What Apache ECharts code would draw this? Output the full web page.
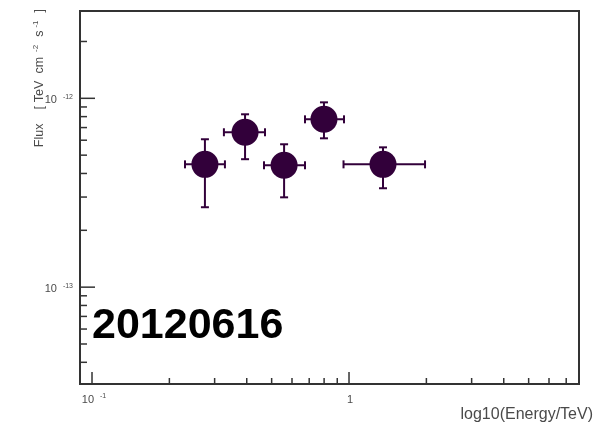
<!DOCTYPE html>
<html>
<head>
<meta charset="utf-8">
<script src="https://cdn.jsdelivr.net/npm/echarts@6/dist/echarts.min.js"></script>
<style>
  html, body { margin: 0; padding: 0; background: #fff; }
  #chart { width: 598px; height: 433px; }
</style>
</head>
<body>
<div id="chart"></div>
<script>
// Spectral points: energy (TeV) with bin edges, flux with asymmetric errors
const energy     = [0.275, 0.394, 0.559, 0.799, 1.356];
const energyLow  = [0.230, 0.326, 0.467, 0.674, 0.952];
const energyHigh = [0.329, 0.471, 0.674, 0.956, 1.976];
const flux       = [4.47e-13, 6.61e-13, 4.42e-13, 7.74e-13, 4.47e-13];
const fluxLow    = [2.65e-13, 4.76e-13, 2.99e-13, 6.14e-13, 3.34e-13];
const fluxHigh   = [6.07e-13, 8.23e-13, 5.71e-13, 9.52e-13, 5.50e-13];

// Axis ranges
const xMin = 0.0898, xMax = 7.85;
const yMin = 3.07e-14, yMax = 2.9e-12;

// Tick positions
const xMajorTicks = [0.1, 1];
const xMinorTicks = [0.2, 0.3, 0.4, 0.5, 0.6, 0.7, 0.8, 0.9, 2, 3, 4, 5, 6, 7];
const yMajorTicks = [1e-13, 1e-12];
const yMinorTicks = [4e-14, 5e-14, 6e-14, 7e-14, 8e-14, 9e-14,
                     2e-13, 3e-13, 4e-13, 5e-13, 6e-13, 7e-13, 8e-13, 9e-13, 2e-12];

// Tick labels: [value, base, exponent]
const xTickLabels = [[0.1, '10', '-1'], [1, '1', '']];
const yTickLabels = [[1e-13, '10', '-13'], [1e-12, '10', '-12']];

const runLabel = '20120616';
const xTitle = 'log10(Energy/TeV)';

const markColor = '#32003a';
const axisColor = '#333333';
const labelColor = '#4a4a4a';
const FONT = '"Liberation Sans", Arial, Helvetica, sans-serif';

const chart = echarts.init(document.getElementById('chart'), null, { renderer: 'canvas' });

function tickSeries(values, axis, len) {
  return {
    type: 'custom',
    silent: true,
    z: 5,
    clip: false,
    data: values.map(v => [v]),
    encode: axis === 'x' ? { x: 0 } : { y: 0 },
    renderItem: function (params, api) {
      const v = api.value(0);
      if (axis === 'x') {
        const p = api.coord([v, yMin]);
        return { type: 'line', shape: { x1: p[0], y1: p[1], x2: p[0], y2: p[1] - len },
                 style: { stroke: axisColor, lineWidth: 1.5 } };
      }
      const p = api.coord([xMin, v]);
      return { type: 'line', shape: { x1: p[0], y1: p[1], x2: p[0] + len, y2: p[1] },
               style: { stroke: axisColor, lineWidth: 1.5 } };
    }
  };
}

function tickLabelSeries(labels, axis) {
  return {
    type: 'custom',
    silent: true,
    z: 5,
    clip: false,
    data: labels.map(l => [l[0]]),
    encode: axis === 'x' ? { x: 0 } : { y: 0 },
    renderItem: function (params, api) {
      const l = labels[params.dataIndex];
      const text = '{b|' + l[1] + '}' + (l[2] ? '{s|' + l[2] + '}' : '');
      const rich = {
        b: { fontSize: 11, fontFamily: FONT, fill: labelColor },
        s: { fontSize: 7, fontFamily: FONT, fill: labelColor, padding: [0, 0, 7, 6] }
      };
      if (axis === 'x') {
        const p = api.coord([l[0], yMin]);
        return { type: 'text', style: { text: text, rich: rich, x: p[0] + (l[2] ? 2 : 1), y: p[1] + 16,
                 align: 'center', verticalAlign: 'middle', fill: labelColor } };
      }
      const p = api.coord([xMin, l[0]]);
      return { type: 'text', style: { text: text, rich: rich, x: p[0] - 7, y: p[1] + 2,
               align: 'right', verticalAlign: 'middle', fill: labelColor } };
    }
  };
}

const pointData = energy.map((e, i) => [e, flux[i], energyLow[i], energyHigh[i], fluxLow[i], fluxHigh[i]]);

// Y-axis title pieces (rotated, reads bottom to top)
const yTitleRich = {
  t:  { fontSize: 12.5, fontFamily: FONT, fill: labelColor },
  tg: { fontSize: 12.5, fontFamily: FONT, fill: labelColor, padding: [0, 14, 0, 0] },
  br: { fontSize: 12.5, fontFamily: FONT, fill: labelColor, padding: [0, 4, 0, 0] },
  sp: { fontSize: 12.5, fontFamily: FONT, fill: labelColor, padding: [0, 7, 0, 0] },
  cm: { fontSize: 12.5, fontFamily: FONT, fill: labelColor, padding: [0, 2, 0, 0] },
  s:  { fontSize: 8, fontFamily: FONT, fill: labelColor, padding: [0, 8, 8, 3] }
};

const option = {
  animation: false,
  backgroundColor: '#ffffff',
  grid: { left: 80, top: 11, right: 19, bottom: 49, show: true,
          borderColor: axisColor, borderWidth: 2, backgroundColor: 'transparent' },
  xAxis: {
    type: 'log', logBase: 10, min: xMin, max: xMax,
    axisLine: { show: false }, axisTick: { show: false },
    axisLabel: { show: false }, splitLine: { show: false }
  },
  yAxis: {
    type: 'log', logBase: 10, min: yMin, max: yMax,
    axisLine: { show: false }, axisTick: { show: false },
    axisLabel: { show: false }, splitLine: { show: false }
  },
  graphic: [
    { type: 'text', x: 593, y: 415,
      style: { text: xTitle, font: '16px ' + FONT, fill: labelColor,
               textAlign: 'right', textVerticalAlign: 'middle' } },
    { type: 'text', x: 40, y: 9, rotation: Math.PI / 2,
      style: { text: '{tg|Flux}{br|[}{sp|TeV}{cm|cm}{s|-2}{t|s}{s|-1}{t|]}',
               rich: yTitleRich, textAlign: 'right', textVerticalAlign: 'middle' } },
    { type: 'text', x: 92, y: 326,
      style: { text: runLabel, font: 'bold 43px ' + FONT, fill: '#000000',
               textAlign: 'left', textVerticalAlign: 'middle' } }
  ],
  series: [
    tickSeries(xMajorTicks, 'x', 12),
    tickSeries(xMinorTicks, 'x', 6),
    tickSeries(yMajorTicks, 'y', 15),
    tickSeries(yMinorTicks, 'y', 7),
    tickLabelSeries(xTickLabels, 'x'),
    tickLabelSeries(yTickLabels, 'y'),
    {
      type: 'custom',
      z: 10,
      data: pointData,
      encode: { x: 0, y: 1 },
      renderItem: function (params, api) {
        const c = api.coord([api.value(0), api.value(1)]);
        const xl = api.coord([api.value(2), api.value(1)])[0];
        const xh = api.coord([api.value(3), api.value(1)])[0];
        const yl = api.coord([api.value(0), api.value(4)])[1];
        const yh = api.coord([api.value(0), api.value(5)])[1];
        const cap = 4;
        const st = { stroke: markColor, lineWidth: 2 };
        return {
          type: 'group',
          children: [
            { type: 'line', shape: { x1: xl, y1: c[1], x2: xh, y2: c[1] }, style: st },
            { type: 'line', shape: { x1: c[0], y1: yl, x2: c[0], y2: yh }, style: st },
            { type: 'line', shape: { x1: xl, y1: c[1] - cap, x2: xl, y2: c[1] + cap }, style: st },
            { type: 'line', shape: { x1: xh, y1: c[1] - cap, x2: xh, y2: c[1] + cap }, style: st },
            { type: 'line', shape: { x1: c[0] - cap, y1: yl, x2: c[0] + cap, y2: yl }, style: st },
            { type: 'line', shape: { x1: c[0] - cap, y1: yh, x2: c[0] + cap, y2: yh }, style: st },
            { type: 'circle', shape: { cx: c[0], cy: c[1], r: 13.5 }, style: { fill: markColor } }
          ]
        };
      }
    }
  ]
};

chart.setOption(option);
</script>
</body>
</html>
